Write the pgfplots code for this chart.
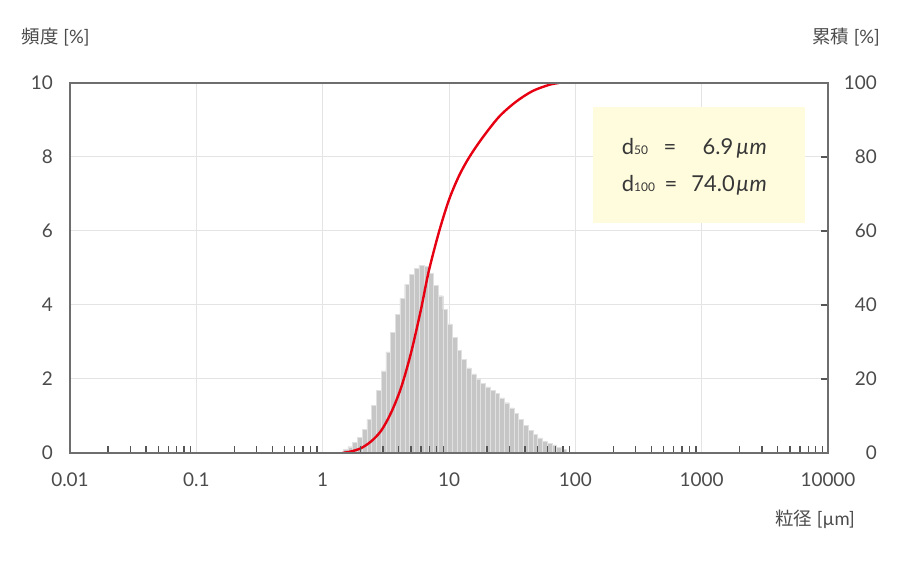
\documentclass[border=0pt]{standalone}
\usepackage{fontspec}
\setmainfont{Lato}
\newfontfamily\cjk{Noto Sans CJK JP}
\usepackage{pgfplots}
\pgfplotsset{compat=1.18}

\definecolor{textgray}{RGB}{75,75,75}
\definecolor{darktext}{RGB}{55,55,55}
\definecolor{framegray}{RGB}{110,110,110}
\definecolor{tickgray}{RGB}{85,85,85}
\definecolor{gridgray}{RGB}{228,228,228}
\definecolor{bargray}{RGB}{198,198,198}
\definecolor{barsep}{RGB}{225,225,225}
\definecolor{redline}{RGB}{230,0,18}
\definecolor{boxyellow}{RGB}{255,252,222}

% grid below the bars, ticks and frame above them
\pgfplotsset{
  layers/gridbelow/.define layer set={
    axis background,axis grid,main,axis ticks,axis lines,axis tick labels,
    axis descriptions,axis foreground
  }{/pgfplots/layers/standard},
}

\begin{document}
\begin{tikzpicture}

% frequency histogram (left axis)
\begin{axis}[
  set layers=gridbelow,
  at={(0,0)}, anchor=south west,
  scale only axis, width=758bp, height=370bp,
  xmode=log, xmin=0.01, xmax=10000,
  ymin=0, ymax=10,
  xtick={0.01,0.1,1,10,100,1000,10000},
  xticklabels={0.01,0.1,1,10,100,1000,10000},
  minor xtick={0.02,0.03,0.04,0.05,0.06,0.07,0.08,0.09,
               0.2,0.3,0.4,0.5,0.6,0.7,0.8,0.9,
               2,3,4,5,6,7,8,9,
               20,30,40,50,60,70,80,90,
               200,300,400,500,600,700,800,900,
               2000,3000,4000,5000,6000,7000,8000,9000},
  ytick={0,2,4,6,8,10},
  yticklabels={0,2,4,6,8,10},
  xtick pos=left, ytick pos=left,
  tick align=inside,
  major tick length=0pt, minor tick length=7bp,
  minor tick style={draw=tickgray, line width=1.3bp},
  xmajorgrids, ymajorgrids,
  major grid style={draw=gridgray, line width=1bp},
  axis line style={draw=framegray, line width=1.4bp},
  tick label style={font=\fontsize{19}{20}\selectfont, text=textgray, inner sep=0pt},
  xticklabel style={anchor=north, yshift=-20bp},
  yticklabel style={anchor=east, xshift=-17bp},
]
\addplot[ybar interval, fill=bargray, draw=barsep, line width=0.35bp] coordinates {
  (1.450,0.10) (1.580,0.17) (1.723,0.28) (1.879,0.43) (2.049,0.64)
  (2.234,0.91) (2.436,1.28) (2.656,1.70) (2.896,2.22) (3.158,2.73)
  (3.443,3.26) (3.754,3.75) (4.093,4.18) (4.463,4.56) (4.864,4.83)
  (5.304,4.99) (5.783,5.07) (6.305,5.05) (6.875,4.85) (7.496,4.54)
  (8.173,4.25) (8.911,3.88) (9.714,3.49) (10.59,3.13) (11.55,2.78)
  (12.59,2.53) (13.73,2.30) (14.97,2.14) (16.32,2.00) (17.80,1.88)
  (19.40,1.79) (21.15,1.70) (23.07,1.61) (25.15,1.49) (27.42,1.36)
  (29.90,1.22) (32.60,1.07) (35.54,0.91) (38.75,0.75) (42.25,0.62)
  (46.07,0.50) (50.23,0.41) (54.76,0.32) (59.71,0.26) (65.10,0.22)
  (70.98,0.15) (77.39,0.10) (84.38,0)
};
\end{axis}

% cumulative curve (right axis)
\begin{axis}[
  at={(0,0)}, anchor=south west,
  scale only axis, width=758bp, height=370bp,
  xmode=log, xmin=0.01, xmax=10000,
  ymin=0, ymax=100,
  axis x line=none,
  axis y line*=right,
  ytick={0,20,40,60,80,100},
  yticklabels={0,20,40,60,80,100},
  tick align=inside,
  major tick length=7bp,
  major tick style={draw=tickgray, line width=1.2bp},
  axis line style={draw=framegray, line width=1.4bp},
  tick label style={font=\fontsize{19}{20}\selectfont, text=textgray, inner sep=0pt},
  yticklabel style={anchor=east, xshift=49bp},
]
\addplot[redline, line width=2.4bp, smooth] coordinates {
  (1.43,0) (1.69,0.45) (2.01,1.3) (2.41,3.1) (2.90,6.0) (3.47,10.8)
  (4.17,17.6) (5.00,27.0) (6.00,38.8) (6.90,49.0) (8.37,60.0)
  (10.04,68.6) (12.04,75.0) (14.44,79.9) (18.40,85.2) (24.94,90.9)
  (33.8,94.9) (45.7,97.8) (62.0,99.5) (74.0,100)
};
\end{axis}

% axis titles
\node[anchor=west, inner sep=0pt, text=textgray, font=\fontsize{18.5}{19}\selectfont]
  at (-48.3bp,416bp) {{\cjk 頻度} [\%]};
\node[anchor=east, inner sep=0pt, text=textgray, font=\fontsize{18.5}{19}\selectfont]
  at (810bp,416bp) {{\cjk 累積} [\%]};
\node[anchor=east, inner sep=0pt, text=textgray, font=\fontsize{18.5}{19}\selectfont]
  at (785bp,-66bp) {{\cjk 粒径} [µm]};

% d50 / d100 box
\fill[boxyellow] (522.7bp,230bp) rectangle (735bp,346.3bp);
\begin{scope}[every node/.style={inner sep=0pt, text=darktext, font=\fontsize{22}{23}\selectfont}]
  \node[anchor=base west] at (551.7bp,298.7bp) {d{\fontsize{12}{13}\selectfont 50}};
  \node[anchor=base] at (600bp,298.7bp) {=};
  \node[anchor=base east] at (663.5bp,298.7bp) {6.9};
  \node[anchor=base west] at (666bp,298.7bp) {\itshape µm};
  \node[anchor=base west] at (551.7bp,261.3bp) {d{\fontsize{12}{13}\selectfont 100}};
  \node[anchor=base] at (601bp,261.3bp) {=};
  \node[anchor=base east] at (665bp,261.3bp) {74.0};
  \node[anchor=base west] at (666bp,261.3bp) {\itshape µm};
\end{scope}

% page size as the reference
\path (-70bp,-109bp) rectangle (830bp,453bp);
\end{tikzpicture}
\end{document}
